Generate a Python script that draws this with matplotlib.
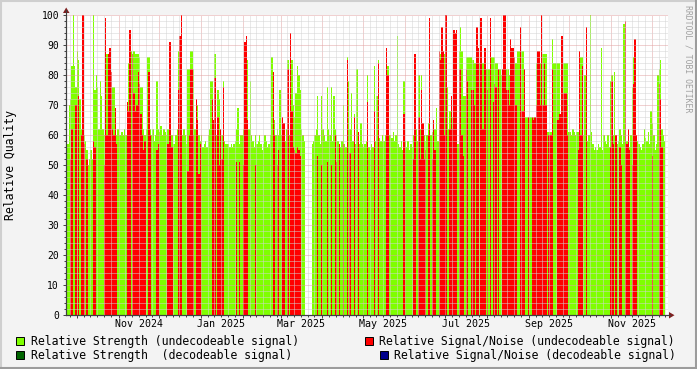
import numpy as np
import pandas as pd
import matplotlib
matplotlib.use('Agg')
import matplotlib.pyplot as plt
import matplotlib.dates as mdates
from matplotlib.ticker import MultipleLocator, NullFormatter
from matplotlib.patches import Rectangle, Polygon
from matplotlib.lines import Line2D
from matplotlib.transforms import blended_transform_factory

W, H = 697, 369
MONO = 'DejaVu Sans Mono'

# one value per day, starting at start_day; 0 = no value that day
start_day = '2024-09-23'
window_days = 446

strength_undec = [
    64, 57, 70, 72, 83, 100, 83, 76, 88, 85,
    72, 62, 60, 60, 58, 55, 50, 52, 55, 52,
    100, 75, 80, 76, 62, 78, 73, 62, 60, 62,
    87, 87, 70, 72, 76, 76, 62, 60, 62, 60,
    60, 61, 60, 62, 60, 71, 84, 77, 88, 76,
    88, 87, 87, 87, 86, 76, 76, 62, 60, 62,
    86, 86, 62, 60, 62, 58, 60, 78, 62, 61,
    63, 60, 62, 61, 60, 62, 60, 58, 60, 57,
    57, 60, 62, 88, 60, 62, 60, 62, 60, 57,
    82, 82, 88, 88, 82, 62, 72, 70, 60, 58,
    60, 56, 57, 58, 56, 60, 62, 78, 78, 60,
    87, 60, 75, 72, 62, 60, 78, 58, 57, 57,
    57, 56, 57, 56, 57, 58, 62, 69, 57, 60,
    60, 62, 60, 60, 85, 62, 78, 60, 58, 56,
    60, 57, 58, 60, 57, 55, 57, 60, 58, 56,
    57, 60, 86, 80, 65, 60, 62, 60, 75, 60,
    62, 60, 58, 62, 85, 60, 62, 85, 70, 66,
    74, 83, 80, 75, 62, 60, 58, 0, 0, 0,
    0, 0, 57, 58, 60, 62, 73, 60, 57, 73,
    62, 60, 58, 76, 62, 60, 76, 58, 73, 62,
    60, 58, 57, 56, 58, 70, 57, 56, 86, 78,
    62, 74, 58, 67, 57, 82, 60, 57, 64, 57,
    56, 57, 58, 80, 56, 55, 57, 56, 83, 58,
    73, 85, 59, 58, 60, 58, 60, 58, 83, 60,
    60, 59, 61, 58, 60, 93, 57, 56, 58, 55,
    78, 58, 56, 58, 55, 57, 56, 60, 83, 62,
    58, 80, 62, 80, 64, 60, 58, 60, 64, 62,
    60, 61, 60, 62, 69, 58, 87, 87, 88, 86,
    87, 76, 76, 62, 68, 68, 66, 86, 75, 62,
    57, 88, 96, 88, 73, 73, 86, 86, 86, 86,
    86, 85, 84, 84, 84, 84, 84, 84, 84, 84,
    82, 82, 82, 82, 86, 86, 86, 86, 84, 84,
    82, 82, 80, 82, 75, 82, 82, 82, 80, 82,
    84, 84, 84, 84, 88, 88, 88, 88, 88, 66,
    66, 66, 66, 66, 66, 66, 66, 66, 84, 84,
    84, 84, 87, 87, 87, 87, 61, 61, 61, 61,
    92, 84, 84, 84, 84, 84, 60, 84, 84, 84,
    84, 84, 61, 61, 60, 62, 61, 60, 61, 61,
    62, 86, 86, 60, 80, 60, 58, 60, 100, 61,
    57, 55, 56, 55, 57, 56, 89, 55, 60, 58,
    57, 60, 56, 78, 80, 60, 81, 60, 57, 58,
    62, 60, 57, 97, 60, 58, 60, 56, 60, 76,
    86, 62, 60, 58, 57, 56, 55, 57, 62, 59,
    58, 61, 57, 68, 64, 60, 55, 57, 80, 82,
    85, 62, 60, 58,
]

snr_undec = [
    57, 0, 0, 52, 62, 0, 0, 70, 0, 73,
    0, 60, 100, 57, 0, 52, 0, 0, 0, 0,
    58, 56, 0, 0, 0, 0, 0, 0, 50, 99,
    60, 87, 89, 81, 62, 60, 69, 57, 0, 0,
    0, 0, 0, 0, 0, 71, 68, 95, 0, 87,
    74, 68, 70, 81, 77, 67, 60, 55, 58, 0,
    0, 81, 60, 0, 0, 0, 0, 55, 57, 0,
    0, 0, 0, 0, 0, 57, 91, 91, 56, 0,
    0, 0, 0, 75, 93, 100, 0, 0, 0, 0,
    48, 60, 82, 82, 60, 0, 72, 65, 47, 57,
    0, 0, 0, 0, 0, 0, 0, 0, 72, 65,
    79, 0, 66, 50, 62, 52, 76, 0, 0, 0,
    0, 0, 0, 0, 0, 0, 51, 0, 51, 0,
    0, 50, 91, 93, 65, 0, 0, 0, 0, 0,
    50, 0, 0, 0, 0, 0, 0, 0, 0, 0,
    0, 0, 0, 81, 60, 0, 50, 55, 0, 0,
    66, 64, 0, 0, 82, 0, 94, 68, 56, 55,
    54, 56, 55, 53, 0, 0, 0, 0, 0, 0,
    0, 0, 0, 0, 0, 0, 53, 0, 0, 50,
    0, 0, 0, 51, 0, 0, 50, 0, 0, 60,
    51, 0, 57, 0, 0, 57, 0, 0, 85, 0,
    54, 0, 0, 66, 0, 0, 61, 0, 0, 0,
    0, 0, 0, 71, 0, 0, 0, 0, 68, 0,
    0, 84, 0, 0, 0, 0, 0, 89, 80, 0,
    0, 0, 0, 0, 0, 0, 0, 0, 0, 0,
    67, 0, 0, 0, 0, 0, 0, 52, 87, 0,
    0, 66, 52, 75, 64, 52, 55, 0, 60, 99,
    0, 52, 65, 55, 0, 0, 88, 85, 96, 88,
    60, 100, 0, 0, 62, 73, 62, 95, 94, 95,
    0, 82, 82, 60, 53, 0, 82, 78, 0, 0,
    75, 75, 70, 0, 96, 89, 0, 99, 62, 62,
    89, 0, 75, 0, 99, 0, 71, 77, 76, 0,
    82, 0, 0, 82, 100, 100, 75, 75, 70, 92,
    89, 89, 86, 70, 0, 0, 96, 68, 68, 82,
    0, 0, 66, 0, 0, 66, 65, 66, 70, 88,
    88, 70, 100, 70, 84, 70, 0, 60, 60, 60,
    82, 0, 0, 0, 65, 67, 67, 93, 74, 74,
    74, 60, 0, 0, 0, 0, 0, 0, 0, 55,
    88, 60, 83, 0, 0, 96, 0, 0, 0, 0,
    0, 0, 0, 0, 0, 0, 0, 0, 0, 0,
    0, 0, 0, 56, 78, 57, 0, 60, 0, 0,
    56, 50, 0, 0, 98, 57, 62, 55, 0, 50,
    77, 92, 60, 0, 0, 0, 0, 0, 0, 0,
    0, 0, 0, 0, 53, 0, 0, 0, 0, 77,
    72, 56, 0, 0,
]

legend_labels = [
    'Relative Strength (undecodeable signal)',
    'Relative Signal/Noise (undecodeable signal)',
    'Relative Strength  (decodeable signal)',
    'Relative Signal/Noise (decodeable signal)',
]
legend_colors = ['#7fff00', '#ff0000', '#006400', '#00008b']

month_labels = ['Nov 2024', 'Jan 2025', 'Mar 2025', 'May 2025',
                'Jul 2025', 'Sep 2025', 'Nov 2025']
month_label_dates = ['2024-11-01', '2025-01-01', '2025-03-01', '2025-05-01',
                     '2025-07-01', '2025-09-01', '2025-11-01']


def fx(x):
    return x / W


def fy(y):
    return 1 - y / H


days = pd.date_range(start_day, periods=len(strength_undec), freq='D')
x0 = pd.Timestamp(start_day)
x1 = x0 + pd.Timedelta(days=window_days)

fig = plt.figure(figsize=(W / 100, H / 100), dpi=100, facecolor='#f3f3f3')
ax = fig.add_axes([fx(66), fy(315), 602 / W, 300 / H])
ax.set_facecolor('white')

ax.bar(days, strength_undec, width=1.0, align='edge', color=legend_colors[0],
       linewidth=0, antialiased=False, zorder=1)
ax.bar(days, snr_undec, width=1.0, align='edge', color=legend_colors[1],
       linewidth=0, antialiased=False, zorder=1.1)

ax.set_xlim(x0, x1)
ax.set_ylim(0, 100)

ax.xaxis.set_major_locator(mdates.MonthLocator())
ax.xaxis.set_minor_locator(mdates.DayLocator(bymonthday=(6, 11, 16, 21, 26)))
ax.xaxis.set_major_formatter(NullFormatter())
ax.yaxis.set_major_locator(MultipleLocator(10))
ax.yaxis.set_minor_locator(MultipleLocator(2))

ax.set_axisbelow(False)
ax.grid(which='major', color='#e3a3a3', linestyle=(0, (1, 1)), linewidth=0.72)
ax.grid(which='minor', color='#d4d4d4', linestyle=(0, (1, 1)), linewidth=0.72)

for s in ['top', 'right']:
    ax.spines[s].set_visible(False)
for s in ['left', 'bottom']:
    ax.spines[s].set_color('#404040')
    ax.spines[s].set_linewidth(0.8)

ax.tick_params(which='major', direction='out', length=2.5, width=0.7, color='#404040')
ax.tick_params(which='minor', direction='out', length=1.5, width=0.7, color='#404040')
ax.tick_params(axis='y', which='major', pad=2.5, labelsize=7)
for lab in ax.get_yticklabels():
    lab.set_family(MONO)

trans = blended_transform_factory(ax.transData, ax.transAxes)
for lab, d in zip(month_labels, month_label_dates):
    ax.text(pd.Timestamp(d) + pd.Timedelta(days=15), -0.03, lab, transform=trans,
            ha='center', va='center', fontsize=7.2, family=MONO)

# axis extensions with arrow heads
axis_col = '#404040'
arrow_col = '#7f1f1f'
fig.add_artist(Line2D([fx(66), fx(66)], [fy(315), fy(10)], color=axis_col, lw=0.8))
fig.add_artist(Line2D([fx(66), fx(670)], [fy(315), fy(315)], color=axis_col, lw=0.8))
fig.add_artist(Polygon([(fx(63), fy(13)), (fx(69.5), fy(13)), (fx(66.2), fy(7.5))],
                       closed=True, color=arrow_col, lw=0))
fig.add_artist(Polygon([(fx(669), fy(312)), (fx(669), fy(318.5)), (fx(674.5), fy(315.2))],
                       closed=True, color=arrow_col, lw=0))

fig.text(fx(10.5), fy(165), 'Relative Quality', rotation=90, ha='center', va='center',
         fontsize=8.3, family=MONO)
fig.text(fx(688), fy(59), 'RRDTOOL / TOBI OETIKER', rotation=270, ha='center', va='center',
         fontsize=5.9, family=MONO, color='#a0a0a0')

# legend, laid out like rrdtool's justified rows
legend_pos = [(16, 341), (364.5, 341), (16, 355), (379.5, 355)]
for (lx, ly), lab, col in zip(legend_pos, legend_labels, legend_colors):
    fig.add_artist(Rectangle((fx(lx), fy(ly + 4)), 8 / W, 8 / H, facecolor=col,
                             edgecolor='black', linewidth=0.7))
    fig.text(fx(lx + 14.5), fy(ly), lab, ha='left', va='center', fontsize=8.3, family=MONO)

# 3d frame around the image
fig.add_artist(Line2D([0, 1], [fy(1), fy(1)], color='#cfcfcf', lw=1.5))
fig.add_artist(Line2D([fx(1), fx(1)], [0, 1], color='#cfcfcf', lw=1.5))
fig.add_artist(Line2D([0, 1], [fy(368), fy(368)], color='#9c9c9c', lw=1.5))
fig.add_artist(Line2D([fx(696), fx(696)], [0, 1], color='#9c9c9c', lw=1.5))

fig.savefig('out.png', dpi=100, facecolor=fig.get_facecolor())
